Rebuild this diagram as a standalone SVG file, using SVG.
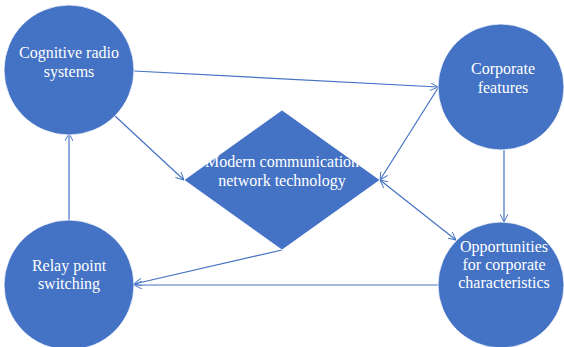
<svg xmlns="http://www.w3.org/2000/svg" width="564" height="347" viewBox="0 0 564 347">
<defs>
<style>
.node{fill:#4472C4;stroke:#ffffff;stroke-width:0.8}
.lbl{font-family:"Liberation Serif","Times New Roman",serif;font-size:16px;fill:#ffffff;text-anchor:middle}
.con{stroke:#4472C4;stroke-width:1.2;fill:none}
</style>
<marker id="ah" viewBox="0 0 10 10" refX="10" refY="5" markerWidth="8" markerHeight="8" orient="auto-start-reverse" markerUnits="userSpaceOnUse">
<path d="M0,0 L10,5 L0,10" fill="none" stroke="#4472C4" stroke-width="1.2"/>
</marker>
</defs>
<rect width="564" height="347" fill="#ffffff"/>
<g id="connectors">
<line class="con" x1="134" y1="71" x2="438" y2="87" marker-end="url(#ah)"/>
<line class="con" x1="115" y1="116" x2="184" y2="180" marker-end="url(#ah)"/>
<line class="con" x1="438" y1="88" x2="380" y2="180" marker-end="url(#ah)"/>
<line class="con" x1="380" y1="180" x2="456" y2="240" marker-start="url(#ah)" marker-end="url(#ah)"/>
<line class="con" x1="504" y1="149" x2="504" y2="222" marker-end="url(#ah)"/>
<line class="con" x1="438" y1="285" x2="134" y2="285" marker-end="url(#ah)"/>
<line class="con" x1="282" y1="250" x2="134" y2="284" marker-end="url(#ah)"/>
<line class="con" x1="69" y1="222" x2="69" y2="133" marker-end="url(#ah)"/>
</g>
<g id="cognitive">
<circle class="node" cx="69" cy="70" r="65"/>
<text class="lbl" x="69" y="58">Cognitive radio</text>
<text class="lbl" x="69" y="77">systems</text>
</g>
<g id="modern">
<polygon class="node" points="282,110 380,180 282,250 184,180"/>
<text class="lbl" x="282" y="167">Modern communication</text>
<text class="lbl" x="282" y="186">network technology</text>
</g>
<g id="corporate">
<circle class="node" cx="501" cy="87" r="63"/>
<text class="lbl" x="503" y="74">Corporate</text>
<text class="lbl" x="503" y="93">features</text>
</g>
<g id="opportunities">
<circle class="node" cx="501" cy="285" r="63"/>
<text class="lbl" x="504" y="252">Opportunities</text>
<text class="lbl" x="504" y="270">for corporate</text>
<text class="lbl" x="504" y="288">characteristics</text>
</g>
<g id="relay">
<circle class="node" cx="69" cy="285" r="65"/>
<text class="lbl" x="69" y="271">Relay point</text>
<text class="lbl" x="69" y="289">switching</text>
</g>
</svg>
